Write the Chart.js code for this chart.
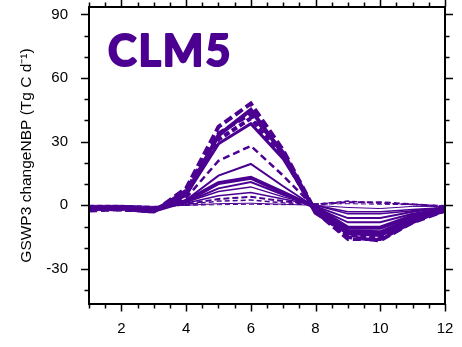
<!DOCTYPE html>
<html>
<head>
<meta charset="utf-8">
<script src="https://cdn.jsdelivr.net/npm/chart.js@4"></script>
<style>
  html, body { margin: 0; padding: 0; background: #fff; }
  #wrap { width: 462px; height: 347px; position: relative; }
</style>
</head>
<body>
<div id="wrap"><canvas id="c"></canvas></div>
<script>
// Monthly change in NBP, GSWP3 forcing, CLM5 ensemble members
const months = [1, 2, 3, 4, 5, 6, 7, 8, 9, 10, 11, 12];

const m01 = [-2.0, -1.5, -3.0, 8.0, 37.0, 48.0, 26.0, -3.0, -15.0, -16.5, -8.0, -2.5];
const m02 = [-1.5, -1.2, -2.5, 5.0, 33.0, 45.0, 24.0, -3.5, -13.0, -14.0, -7.0, -2.5];
const m03 = [-2.5, -2.0, -3.0, 7.0, 34.0, 43.0, 25.0, -3.0, -16.0, -16.0, -8.0, -2.0];
const m04 = [-1.5, -2.0, -2.5, 6.0, 31.0, 41.0, 23.0, -3.0, -14.0, -15.0, -7.5, -2.0];
const m05 = [-1.0, -1.0, -2.0, 5.0, 29.0, 38.5, 22.0, -2.5, -12.0, -12.5, -6.0, -2.0];
const m06 = [-2.0, -1.5, -2.5, 3.5, 21.0, 28.0, 14.0, -1.5, -12.0, -13.0, -6.0, -2.0];
const m07 = [-1.0, -1.0, -2.0, 2.5, 14.0, 19.5, 9.0, -1.0, -8.0, -8.0, -4.0, -1.5];
const m08 = [-1.5, -1.5, -2.5, 2.0, 10.5, 13.0, 6.0, -1.0, -10.5, -10.5, -5.0, -2.0];
const m09 = [-1.0, -1.0, -1.5, 1.5, 8.0, 11.0, 5.0, -0.5, -6.0, -6.0, -3.0, -1.0];
const m10 = [-1.0, -0.5, -1.5, 1.5, 6.5, 8.7, 4.0, 0.0, -4.0, -4.0, -2.5, -1.0];
const m11 = [-0.5, -0.5, -1.0, 1.0, 4.5, 6.0, 3.0, 0.0, -3.0, -3.0, -2.0, -1.0];
const m12 = [-0.5, -0.5, -1.0, 0.5, 3.0, 4.0, 2.0, 0.5, 1.5, 1.5, 0.5, -0.5];
const m13 = [-0.5, -0.5, -1.0, 0.3, 2.0, 2.5, 1.2, 0.5, 2.0, 1.0, 0.5, -0.5];
const m14 = [0.0, 0.0, -0.5, 0.0, 0.8, 1.0, 0.5, 0.0, -1.0, -1.5, -0.5, -0.5];
const m15 = [0.0, 0.0, -0.5, 0.0, 0.3, 0.5, 0.3, 0.5, 0.8, 0.5, 0.3, 0.0];

const xTickLabels = [2, 4, 6, 8, 10, 12];
const yTickLabels = [-30, 0, 30, 60, 90];

const members = [m15, m14, m13, m12, m11, m10, m09, m07, m06, m08, m05, m04, m03, m02, m01];

// line styling per member, same order as above
const lineStyles = [
  { w: 1.0, dash: [5, 3] },
  { w: 1.0, dash: [] },
  { w: 1.5, dash: [5, 3] },
  { w: 2.0, dash: [6, 3] },
  { w: 1.5, dash: [] },
  { w: 1.5, dash: [] },
  { w: 2.0, dash: [] },
  { w: 2.0, dash: [] },
  { w: 2.5, dash: [7, 4] },
  { w: 4.0, dash: [] },
  { w: 3.0, dash: [] },
  { w: 4.0, dash: [6, 3] },
  { w: 3.5, dash: [8, 4] },
  { w: 4.0, dash: [] },
  { w: 4.0, dash: [9, 4] }
];

const INK = '#4b0091';

const datasets = members.map((arr, i) => ({
  data: arr.map((v, k) => ({ x: months[k], y: v })),
  borderColor: INK,
  borderWidth: lineStyles[i].w,
  borderDash: lineStyles[i].dash,
  borderJoinStyle: 'miter',
  borderCapStyle: 'butt',
  pointRadius: 0,
  tension: 0,
  fill: false
}));

// frame, outward ticks on all four sides, panel text
const framePlugin = {
  id: 'frame',
  afterDraw(chart) {
    const { ctx, chartArea: a, scales } = chart;
    const xs = scales.x, ys = scales.y;
    ctx.save();
    ctx.strokeStyle = '#000';
    ctx.lineWidth = 1.5;
    ctx.beginPath();
    // y ticks: majors every 30, minors every 10
    for (let v = -40; v <= 90; v += 10) {
      const py = Math.round(ys.getPixelForValue(v)) + 0.5;
      const len = yTickLabels.includes(v) ? 8 : 4.5;
      ctx.moveTo(a.left, py); ctx.lineTo(a.left - len, py);
      ctx.moveTo(a.right, py); ctx.lineTo(a.right + len, py);
    }
    // x ticks: majors on even months, minors every half month
    for (let m = 1; m <= 12; m += 0.5) {
      const px = Math.round(xs.getPixelForValue(m)) + 0.5;
      const len = xTickLabels.includes(m) ? 7.5 : 4.5;
      ctx.moveTo(px, a.bottom); ctx.lineTo(px, a.bottom + len);
      ctx.moveTo(px, a.top); ctx.lineTo(px, a.top - len);
    }
    ctx.stroke();
    ctx.lineWidth = 2;
    ctx.strokeRect(a.left, a.top, a.right - a.left, a.bottom - a.top);

    // panel label, heavy weight
    ctx.fillStyle = INK;
    ctx.strokeStyle = INK;
    ctx.lineWidth = 2.2;
    ctx.lineJoin = 'round';
    ctx.font = 'bold 43px Lato, "DejaVu Sans", sans-serif';
    ctx.letterSpacing = '2px';
    ctx.textAlign = 'left';
    ctx.textBaseline = 'alphabetic';
    ctx.fillText('CLM5', a.left + 19, 66);
    ctx.strokeText('CLM5', a.left + 19, 66);
    ctx.letterSpacing = '0px';

    // y axis title
    ctx.fillStyle = '#000';
    ctx.font = '15.5px "Liberation Sans", Arial, sans-serif';
    ctx.translate(27, (a.top + a.bottom) / 2);
    ctx.rotate(-Math.PI / 2);
    ctx.textAlign = 'center';
    ctx.textBaseline = 'middle';
    ctx.fillText('GSWP3 changeNBP (Tg C d\u207B\u00B9)', 0, 0);
    ctx.restore();
  }
};

new Chart(document.getElementById('c'), {
  type: 'line',
  data: { datasets },
  options: {
    responsive: true,
    maintainAspectRatio: false,
    animation: false,
    layout: { padding: { top: 7, right: 17, left: 0, bottom: 0 } },
    plugins: { legend: { display: false }, tooltip: { enabled: false } },
    scales: {
      x: {
        type: 'linear',
        min: 1,
        max: 12,
        grid: { display: false },
        border: { display: false },
        afterBuildTicks: s => { s.ticks = xTickLabels.map(v => ({ value: v })); },
        afterFit: s => { s.height = 43; s.paddingLeft = 0; s.paddingRight = 0; },
        ticks: {
          color: '#000',
          padding: 8,
          maxRotation: 0,
          autoSkip: false,
          font: { family: '"Liberation Sans", Arial, sans-serif', size: 15 }
        }
      },
      y: {
        type: 'linear',
        min: -46.5,
        max: 93.5,
        grid: { display: false },
        border: { display: false },
        afterBuildTicks: s => { s.ticks = yTickLabels.map(v => ({ value: v })); },
        afterFit: s => { s.width = 89; s.paddingTop = 0; s.paddingBottom = 0; },
        ticks: {
          color: '#000',
          padding: 13,
          autoSkip: false,
          font: { family: '"Liberation Sans", Arial, sans-serif', size: 15 }
        }
      }
    }
  },
  plugins: [framePlugin]
});
</script>
</body>
</html>
